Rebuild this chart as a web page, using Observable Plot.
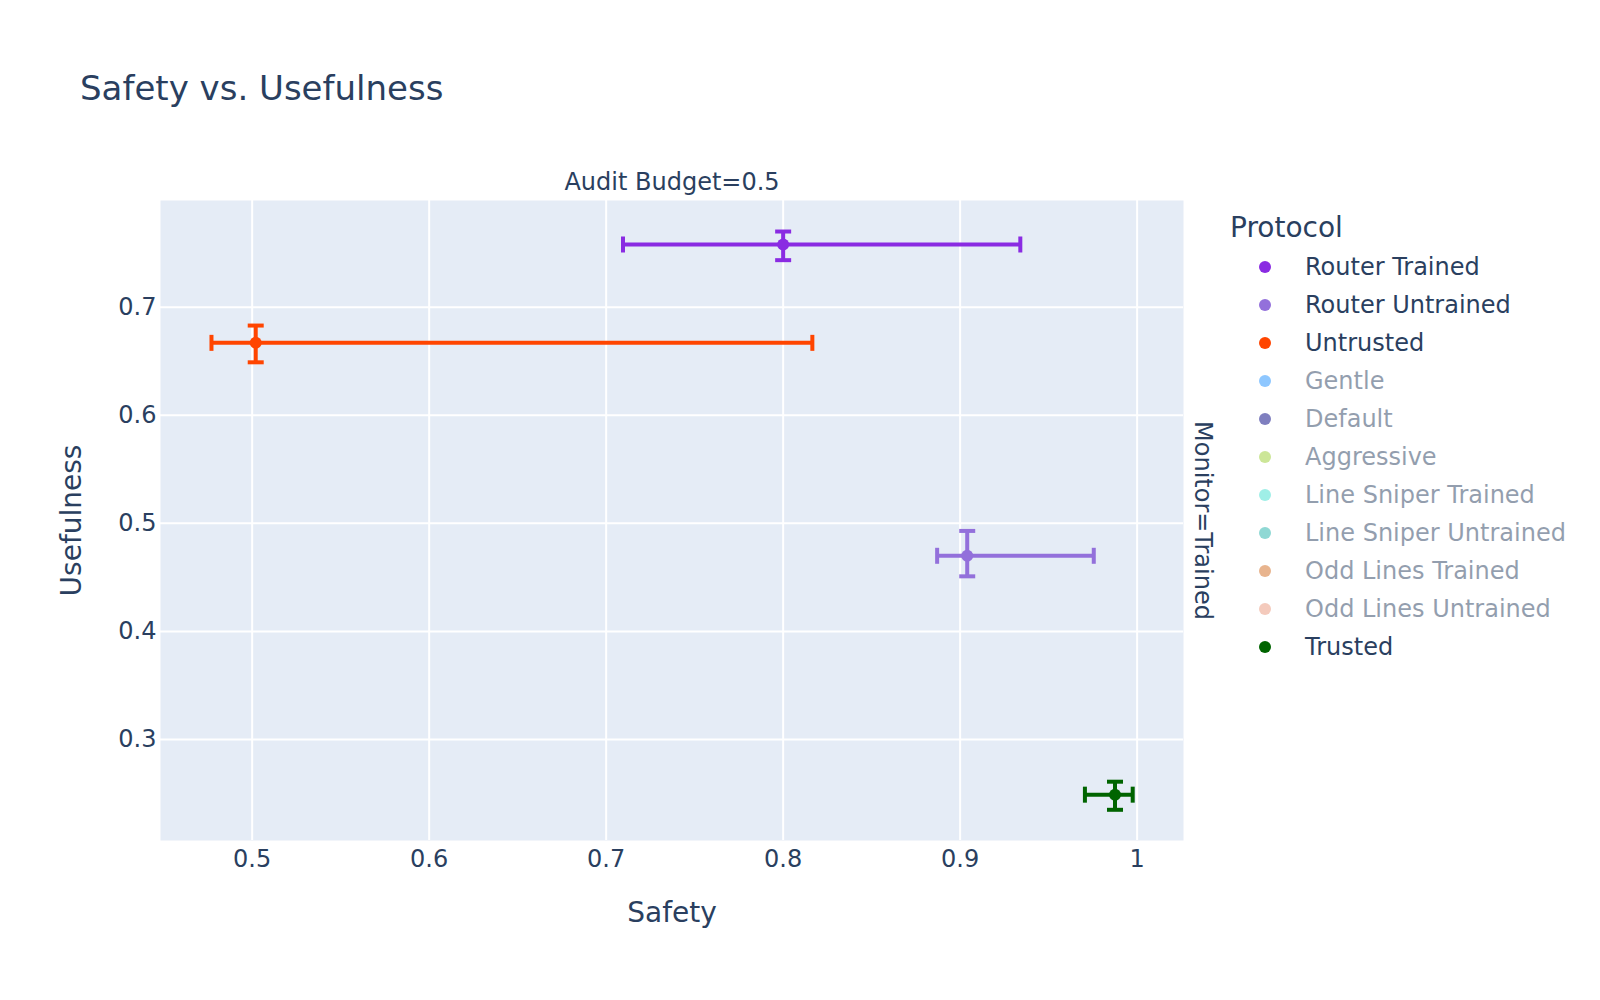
<!DOCTYPE html>
<html>
<head>
<meta charset="utf-8">
<script src="https://cdn.jsdelivr.net/npm/d3@7"></script>
<script src="https://cdn.jsdelivr.net/npm/@observablehq/plot@0.6"></script>
<style>
  html, body { margin: 0; padding: 0; background: #fff; }
  #chart { position: relative; width: 1600px; height: 1000px; font-family: "DejaVu Sans", sans-serif; color: #2a3f5f; overflow: hidden; }
  #chart svg.plot { position: absolute; left: 0; top: 0; }
  .abs { position: absolute; white-space: nowrap; }
  .title { left: 80px; top: 71px; font-size: 34px; line-height: 34px; }
  .legtitle { left: 1230px; top: 214px; font-size: 28px; line-height: 28px; }
  .legrow { left: 1250px; height: 38px; display: flex; align-items: center; font-size: 24px; line-height: 38px; }
  .legrow .dot { width: 12px; height: 12px; border-radius: 50%; margin-left: 9px; margin-right: 34px; }
  .legrow.off { opacity: 0.5; }
</style>
</head>
<body>
<div id="chart"></div>
<script>
// ---- data ----
const titleText = "Safety vs. Usefulness";
const xLabel = "Safety";
const yLabel = "Usefulness";
const colFacetLabel = "Audit Budget=0.5";
const rowFacetLabel = "Monitor=Trained";
const legendTitle = "Protocol";

const protocols = ["Router Trained", "Router Untrained", "Untrusted", "Gentle", "Default", "Aggressive",
  "Line Sniper Trained", "Line Sniper Untrained", "Odd Lines Trained", "Odd Lines Untrained", "Trusted"];
const protocolColors = ["#8a2be2", "#9370db", "#ff4500", "#1e90ff", "#000080", "#9acd32",
  "#40e0d0", "#20b2aa", "#d2691e", "#e9967a", "#006400"];
const protocolShown = [true, true, true, false, false, false, false, false, false, false, true];

const seriesNames = ["Router Trained", "Router Untrained", "Untrusted", "Trusted"];
const safety      = [0.800, 0.904, 0.502, 0.9875];
const safetyLow   = [0.7095, 0.887, 0.477, 0.9705];
const safetyHigh  = [0.934, 0.9755, 0.8165, 0.9975];
const usefulness  = [0.758, 0.470, 0.667, 0.249];
const usefulLow   = [0.7435, 0.451, 0.649, 0.235];
const usefulHigh  = [0.770, 0.493, 0.683, 0.261];

const xTicks = [0.5, 0.6, 0.7, 0.8, 0.9, 1];
const xTickLabels = ["0.5", "0.6", "0.7", "0.8", "0.9", "1"];
const yTicks = [0.3, 0.4, 0.5, 0.6, 0.7];
const yTickLabels = ["0.3", "0.4", "0.5", "0.6", "0.7"];
const xDomain = [0.4482, 1.0262];
const yDomain = [0.2066, 0.7987];

// ---- build ----
const rows = seriesNames.map((p, i) => ({
  protocol: p, x: safety[i], x1: safetyLow[i], x2: safetyHigh[i],
  y: usefulness[i], y1: usefulLow[i], y2: usefulHigh[i]
}));

const vCap = { draw(ctx) { ctx.moveTo(0, -8); ctx.lineTo(0, 8); } };
const hCap = { draw(ctx) { ctx.moveTo(-8, 0); ctx.lineTo(8, 0); } };

const plot = Plot.plot({
  width: 1600,
  height: 1000,
  marginLeft: 160,
  marginRight: 417,
  marginTop: 200,
  marginBottom: 160,
  style: { fontFamily: "DejaVu Sans, sans-serif", fontSize: "24px", color: "#2a3f5f", background: "transparent" },
  x: { domain: xDomain },
  y: { domain: yDomain },
  color: { domain: protocols, range: protocolColors },
  marks: [
    Plot.frame({ fill: "#e5ecf6", stroke: null }),
    Plot.gridX({ ticks: xTicks, stroke: "#ffffff", strokeOpacity: 1, strokeWidth: 2 }),
    Plot.gridY({ ticks: yTicks, stroke: "#ffffff", strokeOpacity: 1, strokeWidth: 2 }),
    Plot.axisX({ ticks: xTicks, tickFormat: (d) => xTickLabels[xTicks.indexOf(d)], tickSize: 0, tickPadding: 9, label: null, fontSize: 24, fill: "#2a3f5f" }),
    Plot.axisY({ ticks: yTicks, tickFormat: (d) => yTickLabels[yTicks.indexOf(d)], tickSize: 0, tickPadding: 4, label: null, fontSize: 24, fill: "#2a3f5f" }),
    Plot.ruleY(rows, { y: "y", x1: "x1", x2: "x2", stroke: "protocol", strokeWidth: 4 }),
    Plot.ruleX(rows, { x: "x", y1: "y1", y2: "y2", stroke: "protocol", strokeWidth: 4 }),
    Plot.dot(rows, { x: "x1", y: "y", symbol: vCap, stroke: "protocol", fill: "none", strokeWidth: 4 }),
    Plot.dot(rows, { x: "x2", y: "y", symbol: vCap, stroke: "protocol", fill: "none", strokeWidth: 4 }),
    Plot.dot(rows, { x: "x", y: "y1", symbol: hCap, stroke: "protocol", fill: "none", strokeWidth: 4 }),
    Plot.dot(rows, { x: "x", y: "y2", symbol: hCap, stroke: "protocol", fill: "none", strokeWidth: 4 }),
    Plot.dot(rows, { x: "x", y: "y", r: 6, fill: "protocol", stroke: null }),
    Plot.text([xLabel], { frameAnchor: "bottom", dy: 73, lineAnchor: "middle", textAnchor: "middle", fontSize: 28, fill: "#2a3f5f" }),
    Plot.text([yLabel], { frameAnchor: "left", dx: -88, rotate: -90, lineAnchor: "middle", textAnchor: "middle", fontSize: 28, fill: "#2a3f5f" }),
    Plot.text([colFacetLabel], { frameAnchor: "top", dy: -18, lineAnchor: "middle", textAnchor: "middle", fontSize: 24, fill: "#2a3f5f" }),
    Plot.text([rowFacetLabel], { frameAnchor: "right", dx: 19, rotate: 90, lineAnchor: "middle", textAnchor: "middle", fontSize: 24, fill: "#2a3f5f" })
  ]
});
plot.classList.add("plot");

const chart = document.getElementById("chart");
chart.appendChild(plot);

const t = document.createElement("div");
t.className = "abs title";
t.textContent = titleText;
chart.appendChild(t);

const lt = document.createElement("div");
lt.className = "abs legtitle";
lt.textContent = legendTitle;
chart.appendChild(lt);

protocols.forEach((p, i) => {
  const row = document.createElement("div");
  row.className = "abs legrow" + (protocolShown[i] ? "" : " off");
  row.style.top = (267 + i * 38 - 19) + "px";
  const dot = document.createElement("span");
  dot.className = "dot";
  dot.style.background = protocolColors[i];
  const lab = document.createElement("span");
  lab.textContent = p;
  row.appendChild(dot);
  row.appendChild(lab);
  chart.appendChild(row);
});
</script>
</body>
</html>
